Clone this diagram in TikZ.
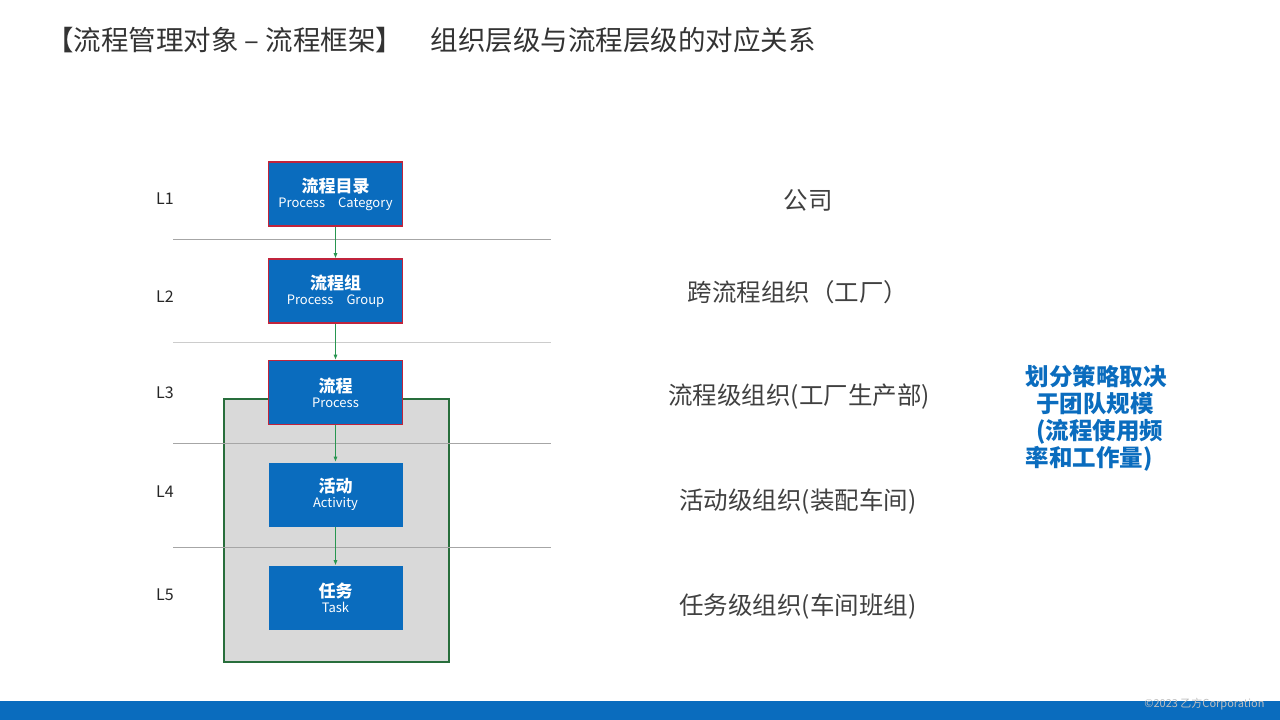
\documentclass[tikz,border=0pt]{standalone}
\usepackage{fontspec}
\setmainfont{Noto Sans CJK SC}
\usetikzlibrary{arrows.meta}
\definecolor{boxblue}{RGB}{10,108,190}
\definecolor{boxred}{RGB}{192,36,60}
\definecolor{grpgreen}{RGB}{40,110,60}
\definecolor{arrgreen}{RGB}{40,150,80}

\begin{document}
\begin{tikzpicture}[x=1pt,y=-1pt,
  procbox/.style={draw=boxred,line width=1.6pt,fill=boxblue,minimum width=134pt,minimum height=64pt,text=white,align=center,font=\fontsize{13}{15}\selectfont},
  actbox/.style={procbox,draw=none},
  lvl/.style={font=\fontsize{16}{18}\selectfont,text=black!85},
  orgtxt/.style={font=\fontsize{24.5}{28}\selectfont,text=black!75},
  sep/.style={gray!70,line width=0.8pt},
  flow/.style={arrgreen,line width=0.6pt,-{Latex[length=5pt,width=4pt]}}]
\useasboundingbox (0,0) rectangle (1280,720);
\def\cn#1{{\fontsize{17}{19}\selectfont\bfseries #1}}

\node[anchor=west,font=\fontsize{27.5}{30}\selectfont,text=black!80,inner sep=0pt] (title) at (46,40) {【流程管理对象 – 流程框架】\quad 组织层级与流程层级的对应关系};

% group frame
\draw[grpgreen,fill=black!15,line width=1.2pt] (224,399) rectangle (449,662);

\draw[sep] (173,239) -- (551,239);
\draw[sep,gray!40] (173,342) -- (551,342);
\draw[sep] (173,443) -- (551,443);
\draw[sep] (173,547) -- (551,547);

\node[procbox] (cat) at (335.5,194) {\cn{流程目录}\\[0pt]Process\quad Category};
\node[procbox] (grp) at (335.5,291) {\cn{流程组}\\[0pt]Process\quad Group};
\node[procbox] (proc) at (335.5,392.5) {\cn{流程}\\[0pt]Process};
\node[actbox] (act) at (335.5,494.5) {\cn{活动}\\[0pt]Activity};
\node[actbox] (task) at (335.5,598) {\cn{任务}\\[0pt]Task};

\draw[flow] (cat) -- (grp);
\draw[flow] (grp) -- (proc);
\draw[flow] (proc) -- (act);
\draw[flow] (act) -- (task);

\node[lvl] (l1) at (165,199) {L1};
\node[lvl] (l2) at (165,297) {L2};
\node[lvl] (l3) at (165,393) {L3};
\node[lvl] (l4) at (165,492) {L4};
\node[lvl] (l5) at (165,595) {L5};

\node[orgtxt] (o1) at (808,200) {公司};
\node[orgtxt] (o2) at (798,292) {跨流程组织（工厂）};
\node[orgtxt] (o3) at (799,397) {流程级组织(工厂生产部)};
\node[orgtxt] (o4) at (798,502) {活动级组织(装配车间)};
\node[orgtxt] (o5) at (798,607) {任务级组织(车间班组)};

\node[text=boxblue,font=\fontsize{23.5}{27}\selectfont\bfseries,align=left] (note) at (1096,418) {划分策略取决\\\ \ 于团队规模\\\ \ (流程使用频\\率和工作量)};

% footer
\fill[boxblue] (0,701) rectangle (1280,720);
\node[anchor=east,text=black!25,font=\fontsize{11}{12}\selectfont] (copy) at (1268,704) {©2023 乙方Corporation};
\end{tikzpicture}
\end{document}
